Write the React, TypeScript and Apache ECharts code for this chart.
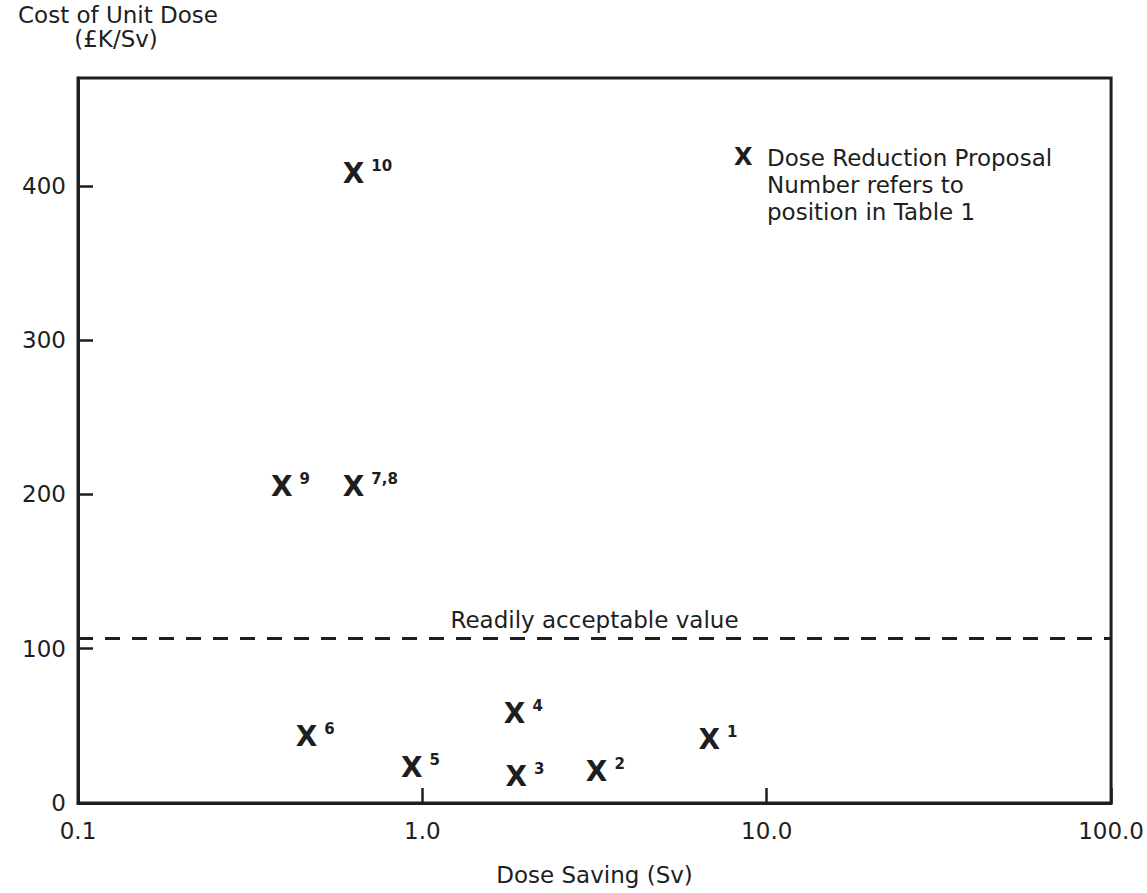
import React, { useEffect, useRef } from "react";
import * as echarts from "echarts";

// Proposal numbers (as in Table 1)
const proposalIds = ["1", "2", "3", "4", "5", "6", "7,8", "9", "10"];
// Dose saving (Sv)
const doseSaving = [6.8, 3.2, 1.87, 1.85, 0.93, 0.46, 0.63, 0.39, 0.63];
// Cost of unit dose (£K/Sv)
const unitCost = [41, 20, 17, 58, 23, 43, 205, 205, 408];
// Readily acceptable value (£K/Sv)
const readilyAcceptable = 107;

const xTicks = [0.1, 1, 10, 100];
const yTicks = [0, 100, 200, 300, 400];

const FONT = "DejaVu Sans";
const INK = "#1e1e1e";

export default function App() {
  const ref = useRef<HTMLDivElement>(null);

  useEffect(() => {
    if (!ref.current) return;
    const chart = echarts.init(ref.current, undefined, { renderer: "svg" });
    const points = doseSaving.map((x, i) => ({
      name: proposalIds[i],
      value: [x, unitCost[i]],
    }));
    chart.setOption({
      animation: false,
      backgroundColor: "#fff",
      textStyle: { fontFamily: FONT, color: INK },
      grid: {
        left: 78,
        right: 34,
        top: 78,
        bottom: 90,
        show: true,
        borderColor: INK,
        borderWidth: 3,
      },
      xAxis: {
        type: "log",
        logBase: 10,
        min: 0.1,
        max: 100,
        name: "Dose Saving (Sv)",
        nameLocation: "middle",
        nameGap: 60,
        nameTextStyle: { fontFamily: FONT, fontSize: 23, color: INK },
        axisLine: { lineStyle: { color: INK, width: 3 } },
        axisTick: { inside: true, length: 15, lineStyle: { color: INK, width: 2.5 } },
        minorTick: { show: false },
        splitLine: { show: false },
        axisLabel: {
          fontFamily: FONT,
          fontSize: 23,
          color: INK,
          margin: 16,
          formatter: (v: number) => {
            const r = Math.round(v * 10) / 10;
            return xTicks.indexOf(r) >= 0 ? r.toFixed(1) : "";
          },
        },
      },
      yAxis: {
        type: "value",
        min: 0,
        max: 470,
        interval: 100,
        axisLine: { show: true, lineStyle: { color: INK, width: 3 } },
        axisTick: { inside: true, length: 15, lineStyle: { color: INK, width: 2.5 } },
        splitLine: { show: false },
        axisLabel: {
          fontFamily: FONT,
          fontSize: 23,
          color: INK,
          margin: 12,
          showMaxLabel: false,
          formatter: (v: number) => (yTicks.indexOf(v) >= 0 ? String(v) : ""),
        },
      },
      graphic: [
        {
          type: "text",
          x: 118,
          y: 3,
          style: {
            text: "Cost of Unit Dose",
            fontFamily: FONT,
            fontSize: 23,
            fill: INK,
            align: "center",
            verticalAlign: "top",
          },
        },
        {
          type: "text",
          x: 116,
          y: 27,
          style: {
            text: "(£K/Sv)",
            fontFamily: FONT,
            fontSize: 23,
            fill: INK,
            align: "center",
            verticalAlign: "top",
          },
        },
        {
          type: "text",
          left: 734,
          top: 145,
          style: { text: "X", fontFamily: FONT, fontSize: 24, fontWeight: "bold", fill: INK },
        },
        {
          type: "text",
          left: 767,
          top: 144,
          style: {
            text: "Dose Reduction Proposal\nNumber refers to\nposition in Table 1",
            fontFamily: FONT,
            fontSize: 23,
            lineHeight: 27,
            fill: INK,
          },
        },
      ],
      series: [
        {
          type: "scatter",
          data: points,
          symbol: "circle",
          symbolSize: 1,
          itemStyle: { color: "rgba(0,0,0,0)", opacity: 1 },
          label: {
            show: true,
            opacity: 1,
            position: [-10, 0],
            align: "left",
            verticalAlign: "middle",
            formatter: (p: any) => `{x|X}{s|${p.name}}`,
            rich: {
              x: { fontFamily: FONT, fontSize: 28, fontWeight: "bold", color: INK, lineHeight: 30 },
              s: {
                fontFamily: FONT,
                fontSize: 15,
                fontWeight: "bold",
                color: INK,
                verticalAlign: "top",
                padding: [0, 0, 0, 7],
                lineHeight: 30,
              },
            },
          },
          markLine: {
            silent: true,
            symbol: ["none", "none"],
            lineStyle: { color: INK, width: 3, type: [15, 12] },
            label: {
              show: true,
              position: "middle",
              formatter: "Readily acceptable value",
              fontFamily: FONT,
              fontSize: 23,
              color: INK,
              distance: 6,
            },
            data: [{ yAxis: readilyAcceptable }],
          },
        },
      ],
    });
    return () => chart.dispose();
  }, []);

  return (
    <div
      ref={ref}
      style={{ position: "fixed", left: 0, top: 0, width: 1147, height: 893, background: "#fff" }}
    />
  );
}
